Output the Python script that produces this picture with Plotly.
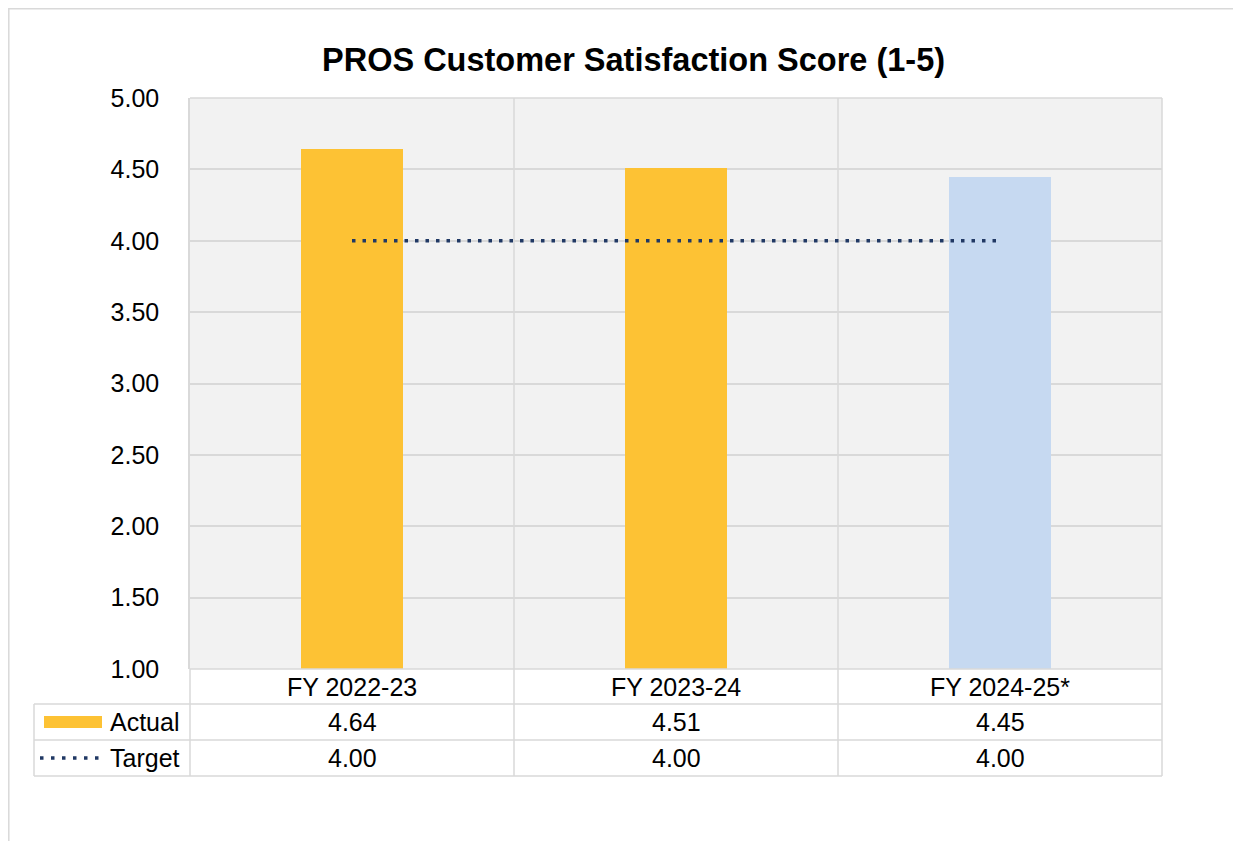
import plotly.graph_objects as go

categories = ["FY 2022-23", "FY 2023-24", "FY 2024-25*"]
actual = [4.64, 4.51, 4.45]
target = [4.00, 4.00, 4.00]
bar_colors = ["#FDC234", "#FDC234", "#C6D9F1"]
y_ticks = [1.0, 1.5, 2.0, 2.5, 3.0, 3.5, 4.0, 4.5, 5.0]

OFF = 8  # page body margin
W, H = 1241 - OFF, 841 - OFF
# plot area in page pixel coordinates
L, R, T, B = 190, 1162, 98, 669
FONT = "Liberation Sans, Arial, sans-serif"
GRID = "#D9D9D9"
NAVY = "#203864"

def px(xp):
    return (xp - L) / (R - L)

def py(yp):
    return (B - yp) / (B - T)

xs = list(range(len(categories)))

fig = go.Figure()
fig.add_trace(go.Bar(x=xs, y=actual, marker=dict(color=bar_colors, line=dict(width=0)),
                     width=0.315, name="Actual", showlegend=False, hoverinfo="y"))
fig.add_trace(go.Scatter(x=xs, y=target, mode="lines", name="Target", showlegend=False,
                         line=dict(color=NAVY, width=3.5, dash="3.5px,7px")))

shapes = []
# outer chart border
shapes.append(dict(type="rect", xref="paper", yref="paper", x0=px(OFF + 0.8), x1=px(1260), y0=py(OFF + 0.8), y1=py(870),
                   line=dict(color=GRID, width=1.5), layer="below"))
# vertical category separators in plot
for b in [0.5, 1.5]:
    shapes.append(dict(type="line", xref="x", yref="paper", x0=b, x1=b, y0=0, y1=1,
                       line=dict(color=GRID, width=1.5), layer="below"))
# table rows
rows = [669, 704, 740, 776]
for i, yy in enumerate(rows):
    x0 = 190 if i == 0 else 34
    shapes.append(dict(type="line", xref="paper", yref="paper", x0=px(x0), x1=px(1162), y0=py(yy), y1=py(yy),
                       line=dict(color=GRID, width=1.5)))
for xx, ytop in [(34, 704), (190, 669), (514, 669), (838, 669), (1162, 669)]:
    shapes.append(dict(type="line", xref="paper", yref="paper", x0=px(xx), x1=px(xx), y0=py(ytop), y1=py(776),
                       line=dict(color=GRID, width=1.5)))
# legend keys
shapes.append(dict(type="rect", xref="paper", yref="paper", x0=px(44), x1=px(102), y0=py(716), y1=py(728),
                   fillcolor=bar_colors[0], line=dict(width=0)))
shapes.append(dict(type="line", xref="paper", yref="paper", x0=px(40), x1=px(101), y0=py(758), y1=py(758),
                   line=dict(color=NAVY, width=3.5, dash="3.5px,7.5px")))

annotations = []
annotations.append(dict(text="<b>PROS Customer Satisfaction Score (1-5)</b>", xref="paper", yref="paper",
                        x=px(633), y=py(60), xanchor="center", yanchor="middle", showarrow=False,
                        font=dict(family=FONT, size=32.5, color="#000000")))
for i, cat in enumerate(categories):
    cx = (i + 0.5) / len(categories)
    annotations.append(dict(text=cat, xref="paper", yref="paper", x=cx, y=py(686.5), xanchor="center",
                            yanchor="middle", showarrow=False, font=dict(family=FONT, size=25, color="#000")))
    annotations.append(dict(text=f"{actual[i]:.2f}", xref="paper", yref="paper", x=cx, y=py(722), xanchor="center",
                            yanchor="middle", showarrow=False, font=dict(family=FONT, size=25, color="#000")))
    annotations.append(dict(text=f"{target[i]:.2f}", xref="paper", yref="paper", x=cx, y=py(758), xanchor="center",
                            yanchor="middle", showarrow=False, font=dict(family=FONT, size=25, color="#000")))
annotations.append(dict(text="Actual", xref="paper", yref="paper", x=px(108), y=py(722), xanchor="left",
                        yanchor="middle", showarrow=False, font=dict(family=FONT, size=25, color="#000")))
annotations.append(dict(text="Target", xref="paper", yref="paper", x=px(108), y=py(758), xanchor="left",
                        yanchor="middle", showarrow=False, font=dict(family=FONT, size=25, color="#000")))

fig.update_layout(
    width=W, height=H,
    margin=dict(l=L - OFF, r=W - (R - OFF), t=T - OFF, b=H - (B - OFF), pad=0),
    paper_bgcolor="#FFFFFF", plot_bgcolor="#F2F2F2",
    showlegend=False,
    shapes=shapes, annotations=annotations,
    xaxis=dict(range=[-0.5, 2.5], showticklabels=False, showgrid=False, zeroline=False,
               showline=False, fixedrange=True),
    yaxis=dict(range=[1, 5], tickvals=y_ticks, ticktext=[f"{v:.2f}" for v in y_ticks],
               showgrid=True, gridcolor=GRID, gridwidth=1.5, zeroline=False, showline=True,
               linecolor=GRID, linewidth=1.5, ticks="", ticklabelstandoff=24,
               tickfont=dict(family=FONT, size=25, color="#000"), fixedrange=True),
    bargap=0,
)
fig.add_shape(type="line", xref="paper", yref="paper", x0=1, x1=1, y0=0, y1=1, line=dict(color=GRID, width=1.5))
fig.add_shape(type="line", xref="paper", yref="paper", x0=0, x1=1, y0=1, y1=1, line=dict(color=GRID, width=1.5))

fig.write_html("out.html", config={"displayModeBar": False})
